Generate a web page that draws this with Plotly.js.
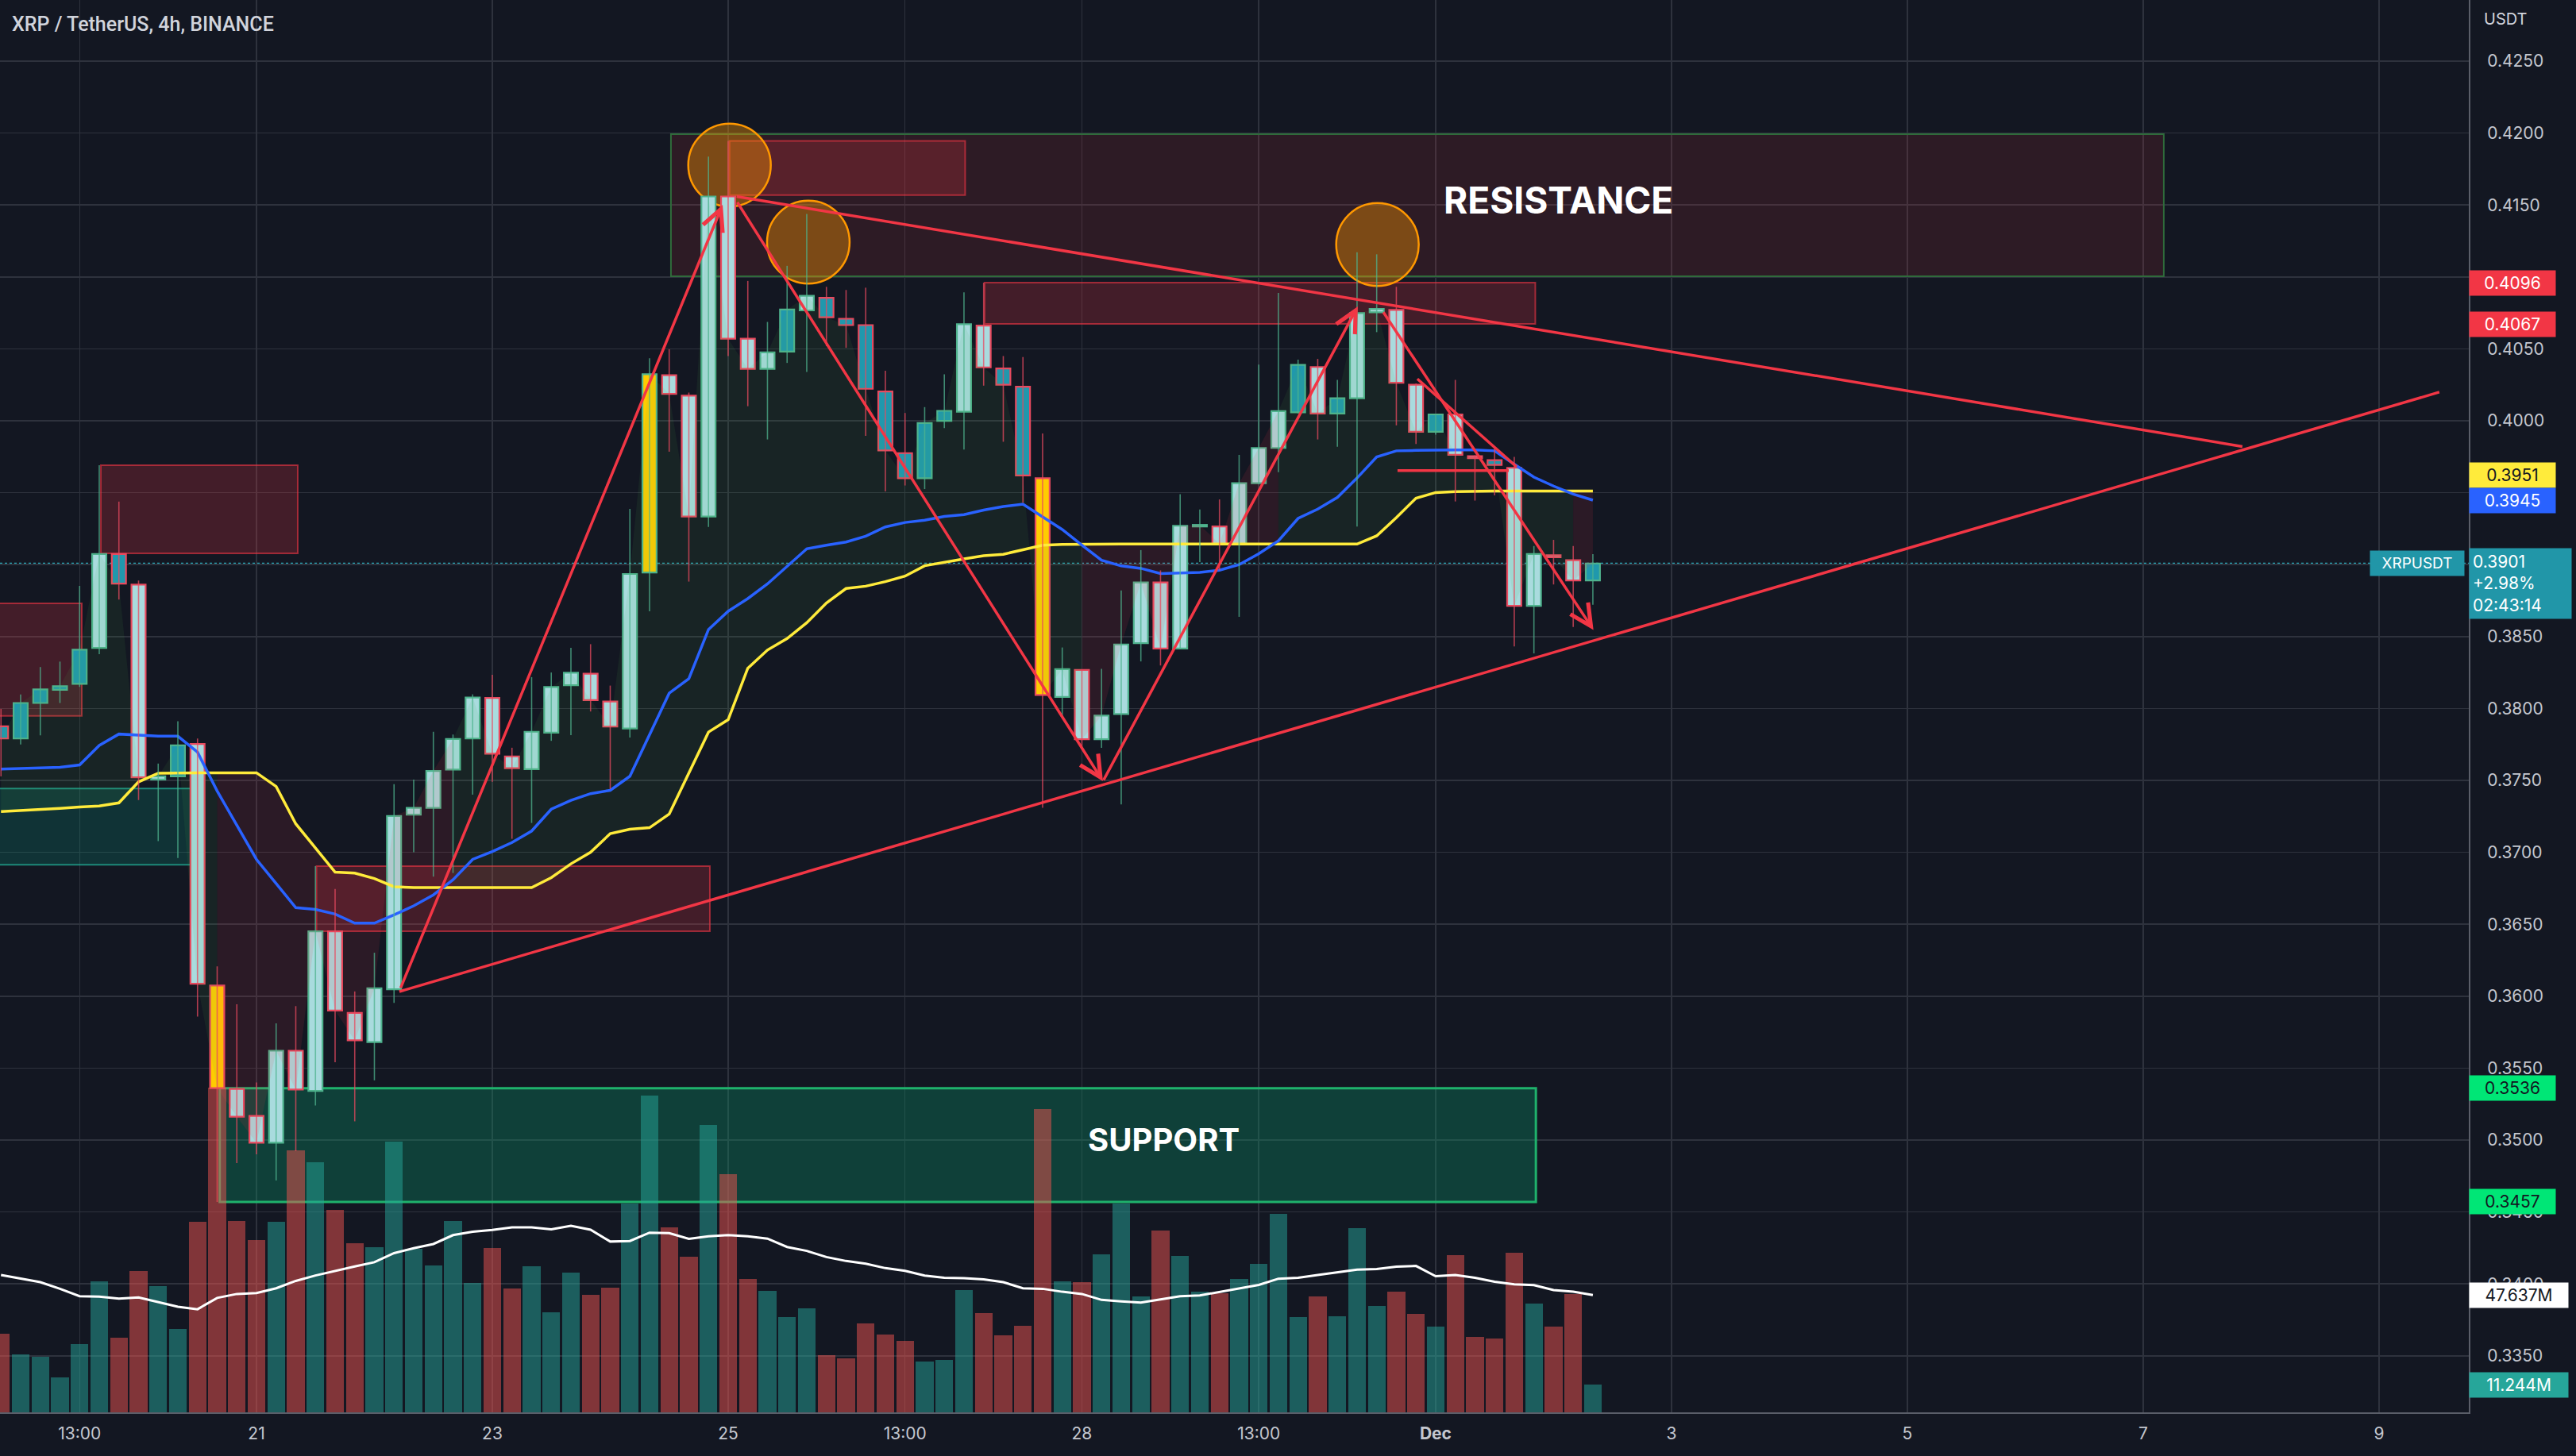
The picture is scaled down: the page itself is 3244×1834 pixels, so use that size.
<!DOCTYPE html>
<html>
<head>
<meta charset="utf-8">
<script src="https://cdn.plot.ly/plotly-3.0.1.min.js"></script>
<style>
html,body{margin:0;padding:0;background:#131722;}
#chart{width:3244px;height:1834px;}
</style>
</head>
<body>
<div id="chart"></div>
<script>
// ---------------- DATA ----------------
const startTime = '2022-11-18T21:00:00Z';   // first visible 4h bar (chart time)
const barHours = 4;

const opens = [0.37876,0.37791,0.38038,0.38130,0.38171,0.38421,0.39074,0.38861,0.37506,0.37528,
0.37753,0.36074,0.35355,0.35168,0.34981,0.35621,0.35342,0.36451,0.35884,0.35681,
0.36048,0.37262,0.37309,0.37575,0.37791,0.38073,0.37667,0.37578,0.37832,0.38162,
0.38242,0.38048,0.37861,0.38945,0.40317,0.40174,0.39334,0.41559,0.40570,0.40361,
0.40481,0.40767,0.40855,0.40709,0.40665,0.40203,0.39775,0.39601,0.39999,0.40063,
0.40662,0.40364,0.40237,0.39601,0.38080,0.38268,0.37786,0.37961,0.38454,0.38876,
0.38417,0.39265,0.39265,0.39143,0.39566,0.39811,0.40059,0.40374,0.40050,0.40157,
0.40754,0.40771,0.40250,0.39923,0.40044,0.39754,0.39726,0.39673,0.38713,0.39065,
0.39031,0.38890];

const highs = [0.37997,0.38098,0.38288,0.38326,0.38852,0.39691,0.39438,0.38890,0.37617,0.37911,
0.37791,0.36207,0.35944,0.35400,0.35811,0.35931,0.36904,0.36745,0.36033,0.36302,
0.37474,0.37506,0.37838,0.37819,0.38098,0.38234,0.37727,0.38218,0.38250,0.38422,
0.38447,0.38159,0.39388,0.40434,0.40497,0.40196,0.41837,0.41945,0.40972,0.40687,
0.41077,0.41438,0.40931,0.40909,0.40925,0.40348,0.40054,0.40095,0.40323,0.40893,
0.40960,0.40450,0.40443,0.39911,0.38424,0.38271,0.38275,0.38820,0.39101,0.38960,
0.39490,0.39383,0.39453,0.39763,0.40391,0.40889,0.40425,0.40430,0.40284,0.41171,
0.41157,0.40931,0.40260,0.40050,0.40284,0.39760,0.39819,0.39749,0.39129,0.39172,
0.39129,0.39073];

const lows = [0.37528,0.37750,0.37813,0.38038,0.38150,0.38377,0.38757,0.37363,0.37078,0.36961,
0.35858,0.34570,0.34840,0.34900,0.34719,0.34923,0.35240,0.35541,0.35130,0.35415,
0.35953,0.37000,0.36831,0.36856,0.37401,0.37490,0.37094,0.37204,0.37775,0.37814,
0.37979,0.37440,0.37798,0.38676,0.39785,0.38882,0.39262,0.40450,0.40101,0.39870,
0.40402,0.40339,0.40519,0.40507,0.39895,0.39509,0.39550,0.39525,0.39949,0.39800,
0.40244,0.39854,0.39430,0.37309,0.37940,0.37722,0.37726,0.37333,0.38327,0.38299,
0.38411,0.39017,0.38960,0.38637,0.39560,0.39642,0.40050,0.39870,0.39819,0.39265,
0.40616,0.39968,0.39839,0.39904,0.39439,0.39445,0.39481,0.38431,0.38383,0.38862,
0.38566,0.38721];

const closes = [0.37791,0.38038,0.38133,0.38155,0.38408,0.39074,0.38868,0.37521,0.37528,0.37743,
0.36086,0.35361,0.35162,0.34981,0.35621,0.35351,0.36451,0.35900,0.35693,0.36055,
0.37252,0.37309,0.37566,0.37788,0.38076,0.37686,0.37585,0.37838,0.38149,0.38248,
0.38058,0.37874,0.38935,0.40323,0.40187,0.39334,0.41559,0.40570,0.40361,0.40475,
0.40773,0.40868,0.40719,0.40665,0.40222,0.39794,0.39601,0.39984,0.40069,0.40671,
0.40371,0.40250,0.39620,0.38094,0.38273,0.37786,0.37950,0.38445,0.38876,0.38417,
0.39270,0.39276,0.39143,0.39566,0.39811,0.40067,0.40388,0.40050,0.40157,0.40748,
0.40777,0.40264,0.39923,0.40044,0.39763,0.39740,0.39693,0.38713,0.39073,0.39051,
0.38890,0.39008];

// body-fill class of each candle: N normal, L low-volume (teal), H high-volume (yellow)
const candleClass = ['L','L','L','L','L','N','L','N','N','L',
'N','H','N','N','N','N','N','N','N','N',
'N','N','N','N','N','N','N','N','N','N',
'N','N','N','H','N','N','N','N','N','N',
'L','N','L','L','L','L','L','L','L','N',
'N','L','L','H','N','N','N','N','N','N',
'N','N','N','N','N','N','L','N','L','N',
'N','N','N','L','N','N','L','N','N','N',
'N','L'];

// volume, millions
const volumes = [32.0,23.5,22.7,14.2,27.8,53.2,30.3,57.4,51.3,33.9,
77.4,132.0,77.7,70.0,77.4,106.5,101.6,82.3,68.7,67.2,
110.0,66.5,59.7,77.7,52.6,66.9,50.4,59.4,40.6,56.9,
47.8,50.7,84.9,128.7,75.2,63.3,116.9,96.9,54.2,49.4,
38.7,42.4,23.2,22.0,36.0,31.6,29.0,20.6,21.3,49.7,
40.3,31.4,35.2,123.2,53.2,52.9,64.2,84.9,47.0,73.9,
63.5,48.9,48.3,54.2,60.3,80.6,38.7,47.0,38.9,74.8,
43.2,49.1,40.0,34.8,63.9,30.5,30.0,65.0,44.1,34.8,
48.1,11.244];

// volume moving average, millions
const volumeMA = [55.8,54.3,52.9,50.2,47.2,47.0,46.2,46.7,44.8,42.9,
41.9,46.5,48.1,48.5,50.4,53.4,55.6,57.5,59.3,61.0,
64.7,66.7,68.4,72.0,73.4,74.1,75.2,75.2,74.4,75.8,
74.2,69.4,69.6,73.0,72.8,70.5,71.5,72.0,71.5,70.6,
67.2,65.6,63.1,61.5,60.4,58.6,57.5,55.6,54.7,54.5,
54.0,52.9,50.4,50.2,49.0,48.1,45.7,45.1,44.6,45.9,
47.2,47.5,49.0,50.4,51.8,54.3,54.7,55.8,56.9,58.0,
58.2,59.2,59.5,55.3,55.8,54.7,53.1,52.0,51.7,49.7,
49.0,47.637];

// fast line (blue)
const blueLine = [0.37578,0.37581,0.37585,0.37591,0.37607,0.37743,0.37822,0.37813,0.37807,0.37807,
0.37696,0.37426,0.37186,0.36951,0.36783,0.36615,0.36603,0.36571,0.36508,0.36508,
0.36565,0.36628,0.36704,0.36809,0.36951,0.37005,0.37068,0.37148,0.37300,0.37361,
0.37408,0.37431,0.37529,0.37814,0.38106,0.38207,0.38549,0.38676,0.38764,0.38866,
0.38986,0.39110,0.39135,0.39157,0.39198,0.39262,0.39293,0.39309,0.39335,0.39347,
0.39379,0.39404,0.39420,0.39331,0.39244,0.39135,0.39030,0.38991,0.38974,0.38938,
0.38944,0.38946,0.38961,0.39000,0.39076,0.39166,0.39321,0.39386,0.39467,0.39602,
0.39749,0.39791,0.39794,0.39797,0.39797,0.39797,0.39791,0.39698,0.39608,0.39546,
0.39490,0.39448];

// slow line (yellow)
const yellowLine = [0.37284,0.37290,0.37300,0.37306,0.37315,0.37322,0.37344,0.37490,0.37550,0.37553,
0.37553,0.37553,0.37553,0.37553,0.37458,0.37198,0.37030,0.36862,0.36856,0.36818,
0.36761,0.36755,0.36755,0.36755,0.36755,0.36755,0.36755,0.36755,0.36824,0.36920,
0.37000,0.37130,0.37161,0.37171,0.37266,0.37551,0.37836,0.37922,0.38280,0.38406,
0.38486,0.38596,0.38733,0.38834,0.38850,0.38882,0.38920,0.38992,0.39018,0.39040,
0.39062,0.39072,0.39103,0.39135,0.39141,0.39143,0.39143,0.39143,0.39143,0.39143,
0.39143,0.39143,0.39143,0.39143,0.39143,0.39143,0.39143,0.39143,0.39143,0.39143,
0.39200,0.39327,0.39462,0.39501,0.39507,0.39510,0.39511,0.39511,0.39512,0.39512,
0.39512,0.39512];

// x-axis tick labels
const tickTimes = ['2022-11-19 13:00','2022-11-21 01:00','2022-11-23 01:00','2022-11-25 01:00',
'2022-11-26 13:00','2022-11-28 01:00','2022-11-29 13:00','2022-12-01 01:00',
'2022-12-03 01:00','2022-12-05 01:00','2022-12-07 01:00','2022-12-09 01:00'];
const tickLabels = ['13:00','21','23','25','13:00','28','13:00','<b>Dec</b>','3','5','7','9'];

// price-axis ticks
const priceTicks = [0.335,0.340,0.345,0.350,0.355,0.360,0.365,0.370,0.375,0.380,
0.385,0.390,0.395,0.400,0.405,0.410,0.415,0.420,0.425];
const hiddenPriceTicks = [0.390,0.395,0.410];

// drawn zones (bar index / price)
const zoneKind   = ['bear','bull','bear','bear','bear','bear','support','resistance'];
const zoneStart  = [-2,   -2,    5.08,  16.05, 37.07, 50.05, 11.13, 34.09];
const zoneEnd    = [4.11, 9.69,  15.10, 36.07, 49.06, 78.07, 78.10, 110.05];
const zoneTop    = [0.38731,0.37443,0.39691,0.36904,0.41945,0.40960,0.35360,0.41992];
const zoneBottom = [0.37949,0.36913,0.39078,0.36451,0.41568,0.40673,0.34570,0.41004];

// highlighted tops (circles)
const circleBar   = [37.07, 41.08, 70.04];
const circlePrice = [0.41777, 0.41242, 0.41225];

// trend lines
const lineFromBar   = [37.43, 20.27, 71.06, 72.07];
const lineFromPrice = [0.41559, 0.36032, 0.39654, 0.40291];
const lineToBar     = [114.05, 124.07, 76.72, 77.12];
const lineToPrice   = [0.39821, 0.40199, 0.39654, 0.39680];

// zig-zag arrows
const arrowFromBar   = [20.31, 37.43, 56.07, 70.30];
const arrowFromPrice = [0.36049, 0.41527, 0.37494, 0.40763];
const arrowToBar     = [36.72, 56.07, 69.04, 81.03];
const arrowToPrice   = [0.41501, 0.37494, 0.40795, 0.38546];

const zoneLabels = ['RESISTANCE','SUPPORT'];
const zoneLabelBar = [79.25, 59.18];
const zoneLabelPrice = [0.41534, 0.35005];

const symbolTitle = 'XRP / TetherUS, 4h, BINANCE';
const currency = 'USDT';
const tickerName = 'XRPUSDT';
const changePct = '+2.98%';
const countdown = '02:43:14';

// ---------------- BUILD ----------------
const N = closes.length;
const T0 = Date.parse(startTime);
const H4 = barHours * 3600e3;
function tAt(i){ return new Date(T0 + i*H4).toISOString().slice(0,23).replace('T',' '); }
const times = closes.map((_,i)=>tAt(i));
const isUp = closes.map((c,i)=> c >= opens[i]);

const COL = {
  bg:'#131722', grid:'#2e323d', axisLine:'#5a5e69', text:'#c4c7cf',
  upBorder:'#4fb38e', downBorder:'#e84a5f',
  upWick:'rgba(79,179,142,0.75)', downWick:'rgba(232,74,95,0.75)',
  fillN:'#a9dbde', fillL:'#2098ad', fillH:'#ffcc00',
  volUp:'rgba(38,166,154,0.5)', volDown:'rgba(239,83,80,0.5)',
  blue:'#2962ff', yellow:'#ffeb3b', red:'#f23645'
};
const FONT = 'Inter, Roboto, "Noto Sans", sans-serif';

const traces = [];

// trend fill between close and slow line
const trendUp = blueLine.map((b,i)=> b >= yellowLine[i]);
let s = 0;
for(let i=1;i<=N;i++){
  if(i===N || trendUp[i]!==trendUp[s]){
    const e = Math.min(i, N-1);
    const idx = []; for(let k=s;k<=e;k++) idx.push(k);
    const rev = idx.slice().reverse();
    traces.push({
      type:'scatter', mode:'lines', yaxis:'y',
      x: idx.map(k=>times[k]).concat(rev.map(k=>times[k])),
      y: idx.map(k=>closes[k]).concat(rev.map(k=>yellowLine[k])),
      fill:'toself', fillcolor: trendUp[s] ? 'rgba(76,175,80,0.09)' : 'rgba(242,54,69,0.11)',
      line:{width:0}, hoverinfo:'skip', showlegend:false
    });
    s = i;
  }
}

traces.push({type:'scatter', mode:'lines', x:times, y:yellowLine, yaxis:'y',
  line:{color:COL.yellow, width:3.5}, hoverinfo:'skip', showlegend:false});
traces.push({type:'scatter', mode:'lines', x:times, y:blueLine, yaxis:'y',
  line:{color:COL.blue, width:3.5}, hoverinfo:'skip', showlegend:false});

// wicks
[true,false].forEach(dir=>{
  const x=[], y=[];
  for(let i=0;i<N;i++){ if(isUp[i]===dir){ x.push(times[i],times[i],null); y.push(lows[i],highs[i],null); } }
  traces.push({type:'scatter', mode:'lines', x, y, yaxis:'y',
    line:{color: dir?COL.upWick:COL.downWick, width:1.6}, hoverinfo:'skip', showlegend:false});
});

// bodies
const fillMap = {N:COL.fillN, L:COL.fillL, H:COL.fillH};
traces.push({
  type:'bar', x:times, yaxis:'y',
  base: opens.map((o,i)=>Math.min(o,closes[i])),
  y: opens.map((o,i)=>Math.max(Math.abs(closes[i]-o), 0.00005)),
  width:0.72*H4,
  marker:{color:candleClass.map(c=>fillMap[c]), line:{color:isUp.map(u=>u?COL.upBorder:COL.downBorder), width:2.2}},
  hoverinfo:'skip', showlegend:false
});

// volume (own hidden axis overlaid on the price pane)
traces.push({
  type:'bar', x:times, y:volumes, width:0.9*H4, yaxis:'y2', xaxis:'x',
  marker:{color:isUp.map(u=>u?COL.volUp:COL.volDown), line:{width:0}},
  hoverinfo:'skip', showlegend:false
});
traces.push({
  type:'scatter', mode:'lines', x:times, y:volumeMA, yaxis:'y2',
  line:{color:'#ffffff', width:3}, hoverinfo:'skip', showlegend:false
});

// ---------------- SHAPES ----------------
const shapes = [];
const zoneStyle = {
  bear:{fill:'rgba(242,54,69,0.22)', line:'rgba(242,54,69,0.6)', w:2},
  bull:{fill:'rgba(8,153,129,0.22)', line:'rgba(34,171,148,0.75)', w:2},
  support:{fill:'rgba(8,153,105,0.32)', line:'#1fb26c', w:3},
  resistance:{fill:'rgba(242,54,69,0.12)', line:'#2f6b3b', w:2}
};
const zoneOrder = [7,0,1,2,3,4,5,6];
zoneOrder.forEach(k=>{
  const st = zoneStyle[zoneKind[k]];
  shapes.push({type:'rect', xref:'x', yref:'y', layer:'between',
    x0:tAt(zoneStart[k]), x1:tAt(zoneEnd[k]), y0:zoneBottom[k], y1:zoneTop[k],
    fillcolor:st.fill, line:{color:st.line, width:st.w}});
});
circleBar.forEach((b,k)=>{
  shapes.push({type:'circle', xref:'x', yref:'y', layer:'between',
    x0:tAt(b-2.1), x1:tAt(b+2.1), y0:circlePrice[k]-0.00288, y1:circlePrice[k]+0.00288,
    fillcolor:'rgba(255,152,0,0.38)', line:{color:'#ff9800', width:2.5}});
});
shapes.push({type:'line', xref:'paper', yref:'y', layer:'between', x0:0, x1:1,
  y0:closes[N-1], y1:closes[N-1], line:{color:'#2aa7b8', width:2, dash:'dot'}});
lineFromBar.forEach((b,k)=>{
  shapes.push({type:'line', xref:'x', yref:'y', layer:'above',
    x0:tAt(b), y0:lineFromPrice[k], x1:tAt(lineToBar[k]), y1:lineToPrice[k],
    line:{color:COL.red, width:3.5}});
});

// ---------------- ANNOTATIONS ----------------
const ann = [];
ann.push({xref:'paper', yref:'paper', x:0, y:1, xanchor:'left', yanchor:'top', xshift:13, yshift:-14,
  text:symbolTitle, showarrow:false, font:{family:'Roboto, sans-serif', size:25, weight:500, color:'#d1d4dc'}});
ann.push({xref:'paper', yref:'paper', x:1, y:1, xanchor:'left', yanchor:'top', xshift:17, yshift:-10,
  text:currency, showarrow:false, font:{family:FONT, size:20, color:'#d1d4dc'}});
ann.push({xref:'x', yref:'y', x:tAt(zoneLabelBar[0]), y:zoneLabelPrice[0], text:'<b>'+zoneLabels[0]+'</b>',
  showarrow:false, font:{family:FONT, size:46, color:'#ffffff'}});
ann.push({xref:'x', yref:'y', x:tAt(zoneLabelBar[1]), y:zoneLabelPrice[1], text:'<b>'+zoneLabels[1]+'</b>',
  showarrow:false, font:{family:FONT, size:40, color:'#ffffff'}});

arrowFromBar.forEach((b,k)=>{
  ann.push({xref:'x', yref:'y', axref:'x', ayref:'y',
    x:tAt(arrowToBar[k]), y:arrowToPrice[k], ax:tAt(b), ay:arrowFromPrice[k],
    text:'', showarrow:true, arrowhead:5, arrowsize:1.5, arrowwidth:3.5, arrowcolor:COL.red, standoff:0, startstandoff:0});
});

function axisTag(yref, yv, txt, bg, fg, w, yshift){
  ann.push({xref:'paper', yref:yref, x:1, y:yv, xanchor:'left', yanchor:'middle', yshift:yshift||0,
    text:txt, showarrow:false, bgcolor:bg, borderpad:3, width:w, align:'center',
    font:{family:FONT, size:21, color:fg}});
}
axisTag('y', zoneTop[5], zoneTop[5].toFixed(4), COL.red, '#ffffff', 102);
axisTag('y', zoneBottom[5], zoneBottom[5].toFixed(4), COL.red, '#ffffff', 102);
axisTag('y', yellowLine[N-1], yellowLine[N-1].toFixed(4), '#ffeb3b', '#131722', 102, 20);
axisTag('y', blueLine[N-1], blueLine[N-1].toFixed(4), '#2962ff', '#ffffff', 102);
axisTag('y', zoneTop[6], zoneTop[6].toFixed(4), '#00e676', '#131722', 102);
axisTag('y', zoneBottom[6], zoneBottom[6].toFixed(4), '#00e676', '#131722', 102);
ann.push({xref:'paper', yref:'y', x:1, y:closes[N-1], xanchor:'left', yanchor:'middle', yshift:-25,
  text:closes[N-1].toFixed(4)+'<br>'+changePct+'<br>'+countdown, showarrow:false, bgcolor:'#2196a8',
  borderpad:4, width:120, align:'left', font:{family:FONT, size:21, color:'#ffffff'}});
ann.push({xref:'paper', yref:'y', x:1, y:closes[N-1], xanchor:'right', yanchor:'middle', xshift:-5,
  text:tickerName, showarrow:false, bgcolor:'#2196a8', borderpad:4, width:110, align:'center',
  font:{family:FONT, size:19, color:'#ffffff'}});
axisTag('y2', volumeMA[N-1], volumeMA[N-1].toFixed(3)+'M', '#ffffff', '#131722', 118);
axisTag('y2', volumes[N-1], volumes[N-1].toFixed(3)+'M', '#26a69a', '#ffffff', 118);

// ---------------- LAYOUT ----------------
const priceTickText = priceTicks.map(v => hiddenPriceTicks.some(h=>Math.abs(h-v)<1e-9) ? '' : v.toFixed(4));

const layout = {
  width:3244, height:1834,
  paper_bgcolor:COL.bg, plot_bgcolor:COL.bg,
  margin:{l:0, r:135, t:0, b:55, pad:0},
  showlegend:false, hovermode:false, barmode:'overlay', bargap:0,
  xaxis:{type:'date', range:[tAt(-0.0505), tAt(125.57)],
    tickmode:'array', tickvals:tickTimes, ticktext:tickLabels,
    showgrid:true, gridcolor:COL.grid, gridwidth:1.5,
    showline:true, linecolor:COL.axisLine, linewidth:2, ticks:'', zeroline:false,
    ticklabelstandoff:7, tickfont:{family:FONT, size:21, color:COL.text}, fixedrange:true},
  yaxis:{side:'right', range:[0.331071, 0.429249],
    tickmode:'array', tickvals:priceTicks, ticktext:priceTickText,
    showgrid:true, gridcolor:COL.grid, gridwidth:1.5,
    showline:true, linecolor:COL.axisLine, linewidth:2, ticks:'', zeroline:false,
    ticklabelstandoff:17, tickfont:{family:FONT, size:21, color:COL.text}, fixedrange:true},
  yaxis2:{overlaying:'y', range:[0, 573.9], visible:false, showgrid:false, zeroline:false, fixedrange:true},
  shapes:shapes, annotations:ann
};

Plotly.newPlot('chart', traces, layout, {staticPlot:true, displayModeBar:false});
</script>
</body>
</html>
